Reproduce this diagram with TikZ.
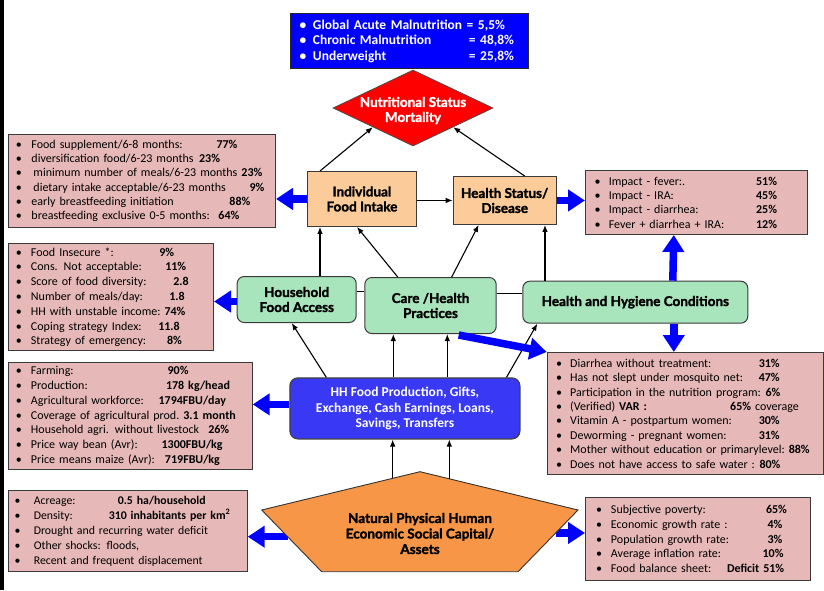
\documentclass[tikz,border=0pt]{standalone}
\usepackage{fontspec}
\setmainfont{Carlito}
\newfontfamily\headfont[FakeBold=1.6]{Lato}
\usetikzlibrary{arrows.meta,shapes.geometric}

\definecolor{pinkfill}{HTML}{E6B9B8}
\definecolor{peachfill}{HTML}{FBCB9A}
\definecolor{greenfill}{HTML}{A8E4BC}
\definecolor{hhblue}{HTML}{3838F5}
\definecolor{topblue}{HTML}{0000FF}
\definecolor{orangefill}{HTML}{F79646}
\definecolor{edgegray}{HTML}{3A3A3A}

% bullet line: bullet, label padded to a given width, value
\newlength\bulw
\newcommand\itm[3]{\makebox[\bulw][l]{\textbullet}\setbox0=\hbox{#2\ }\ifdim\wd0<#1pt\hbox to #1pt{\unhbox0\hfil}\else\box0\fi#3}

\begin{document}
\begin{tikzpicture}[x=1pt,y=-1pt,
  bul/.code={\setlength\bulw{#1}},
  databox/.style={draw=edgegray, line width=1pt, fill=pinkfill, anchor=north west,
    align=left, inner ysep=0pt},
  titlebox/.style={anchor=north west, inner sep=0pt, align=center,
    font=\headfont\bfseries\fontsize{13.5}{15}\selectfont},
  peachbox/.style={titlebox, draw=edgegray, line width=0.9pt, fill=peachfill},
  greenbox/.style={titlebox, draw=edgegray, line width=1pt, fill=greenfill, rounded corners=7pt},
  thinarrow/.style={-{Latex[length=7pt,width=5.5pt]}, line width=1.1pt, black},
  thinline/.style={line width=1.1pt, black},
  bluearrow/.style={-{Triangle[length=17pt,width=21pt]}, line width=7.5pt, topblue},
]
\useasboundingbox (0,0) rectangle (824,590);

% left frame
\draw[line width=3.5pt] (1.75,0) -- (1.75,590);

% ---------- top indicators ----------
\node[databox, draw=black!85, line width=1.3pt, fill=topblue, text=white, bul=13.3pt,
  inner xsep=9pt, text width=220pt, minimum height=55pt,
  font=\bfseries\fontsize{13.5}{15.4}\selectfont] (malnut) at (290,13) {
\itm{153.3}{Global Acute Malnutrition}{= 5,5\%}\\
\itm{156}{Chronic Malnutrition}{= 48,8\%}\\
\itm{156}{Underweight}{= 25,8\%}};

% ---------- outcome ----------
\node[diamond, fill=red, draw=black!70, line width=0.8pt, minimum width=160pt,
  minimum height=76pt, inner sep=0pt] (dia) at (413,108) {};
\node[align=center, text=white, inner sep=0pt,
  font=\headfont\bfseries\fontsize{13.5}{15}\selectfont] (diatext) at (413,110.5)
  {Nutritional Status\\Mortality};

% ---------- immediate causes ----------
\node[peachbox, minimum width=109pt, minimum height=55pt] (ifi) at (307,171)
  {Individual\\Food Intake};
\node[peachbox, minimum width=103pt, minimum height=48pt] (hsd) at (452.7,176)
  {Health Status/\\Disease};

% ---------- underlying causes ----------
\node[greenbox, minimum width=119pt, minimum height=46pt] (hfa) at (236.7,276)
  {Household\\Food Access};
\node[greenbox, minimum width=131.4pt, minimum height=56pt] (care) at (364.3,277)
  {Care /Health\\Practices};
\node[greenbox, minimum width=225pt, minimum height=42pt] (hhc) at (522.3,280.7)
  {Health and Hygiene Conditions};

% ---------- household resources ----------
\node[anchor=north west, draw=black!75, line width=1.2pt, fill=hhblue, rounded corners=8pt,
  minimum width=230pt, minimum height=61pt, inner sep=0pt, align=center, text=white,
  font=\bfseries\fontsize{13.5}{15.3}\selectfont] (hh) at (289.3,377.3)
  {HH Food Production, Gifts,\\Exchange, Cash Earnings, Loans,\\Savings, Transfers};

% ---------- data boxes ----------
\node[databox, bul=15.5pt, inner xsep=8pt, text width=251.5pt, minimum height=93pt,
  font=\fontsize{12}{14.3}\selectfont] (intakedata) at (7.5,134) {
\itm{185}{Food supplement/6-8 months:}{\textbf{77\%}}\\
\itm{167.6}{diversification food/6-23 months}{\textbf{23\%}}\\
\itm{206.6}{\hspace{2pt}minimum number of meals/6-23 months}{\textbf{23\%}}\\
\itm{218}{\hspace{2pt}dietary intake acceptable/6-23 months}{\textbf{9\%}}\\
\itm{198}{early breastfeeding initiation}{\textbf{88\%}}\\
\itm{187}{breastfeeding exclusive 0-5 months:}{\textbf{64\%}}};

\node[databox, bul=15pt, inner xsep=8pt, text width=189.5pt, minimum height=107pt,
  font=\fontsize{12}{14.8}\selectfont] (accessdata) at (7.5,243.3) {
\itm{128.3}{Food Insecure *:}{\textbf{9\%}}\\
\itm{134.3}{Cons. Not acceptable:}{\textbf{11\%}}\\
\itm{142.3}{Score of food diversity:}{\textbf{2.8}}\\
\itm{138.3}{Number of meals/day:}{\textbf{1.8}}\\
\itm{130.6}{HH with unstable income:}{\textbf{74\%}}\\
\itm{127.3}{Coping strategy Index:}{\textbf{11.8}}\\
\itm{136}{Strategy of emergency:}{\textbf{8\%}}};

\node[databox, bul=15pt, inner xsep=8pt, text width=228.2pt, minimum height=107pt,
  font=\fontsize{12}{14.8}\selectfont] (proddata) at (7.5,362) {
\itm{136.6}{Farming:}{\textbf{90\%}}\\
\itm{135}{Production:}{\textbf{178 kg/head}}\\
\itm{127.6}{Agricultural workforce:}{\textbf{1794FBU/day}}\\
\itm{135.6}{Coverage of agricultural prod.}{\textbf{3.1 month}}\\
\itm{177.3}{Household agri. without livestock}{\textbf{26\%}}\\
\itm{130.6}{Price way bean (Avr):}{\textbf{1300FBU/kg}}\\
\itm{134}{Price means maize (Avr):}{\textbf{719FBU/kg}}};

\node[databox, bul=19.3pt, inner xsep=6.5pt, text width=226.2pt, minimum height=81pt,
  font=\fontsize{11.8}{15}\selectfont] (assetsleft) at (7.5,490) {
\itm{84}{Acreage:}{\textbf{0.5 ha/household}}\\
\itm{75}{Density:}{\textbf{310 inhabitants per km\textsuperscript{2}}}\\
\itm{0}{Drought and recurring water deficit}{}\\
\itm{0}{Other shocks: floods,}{}\\
\itm{0}{Recent and frequent displacement}{}};

\node[databox, bul=14.3pt, inner xsep=9pt, text width=203.7pt, minimum height=64pt,
  font=\fontsize{12}{14.3}\selectfont] (feverdata) at (585,170) {
\itm{147.3}{Impact - fever:.}{\textbf{51\%}}\\
\itm{147.3}{Impact - IRA:}{\textbf{45\%}}\\
\itm{147.3}{Impact - diarrhea:}{\textbf{25\%}}\\
\itm{147.3}{Fever + diarrhea + IRA:}{\textbf{12\%}}};

\node[databox, bul=14pt, inner xsep=9pt, text width=258.3pt, minimum height=122pt,
  font=\fontsize{12}{14.4}\selectfont] (healthdata) at (546.7,352) {
\itm{188.6}{Diarrhea without treatment:}{\textbf{31\%}}\\
\itm{188.6}{Has not slept under mosquito net:}{\textbf{47\%}}\\
\itm{195.3}{Participation in the nutrition program:}{\textbf{6\%}}\\
\itm{160}{(Verified) \textbf{VAR :}}{\textbf{65\%} coverage}\\
\itm{188.6}{Vitamin A - postpartum women:}{\textbf{30\%}}\\
\itm{188.6}{Deworming - pregnant women:}{\textbf{31\%}}\\
\itm{218.6}{Mother without education or primarylevel:}{\textbf{88\%}}\\
\itm{189.3}{Does not have access to safe water :}{\textbf{80\%}}};

\node[databox, bul=15pt, inner xsep=10.5pt, text width=204pt, minimum height=83pt,
  font=\fontsize{12}{14.8}\selectfont] (econdata) at (585,497) {
\itm{155}{Subjective poverty:}{\textbf{65\%}}\\
\itm{156.6}{Economic growth rate :}{\textbf{4\%}}\\
\itm{156.6}{Population growth rate:}{\textbf{3\%}}\\
\itm{151.6}{Average inflation rate:}{\textbf{10\%}}\\
\itm{116}{Food balance sheet:}{\textbf{Deficit 51\%}}};

% ---------- links between causes ----------
\draw[thinarrow] (ifi.east |- hsd.west) -- (hsd.west);
\draw[thinarrow] ([xshift=13pt]ifi.north west) -- (dia.south west);
\draw[thinarrow] ([xshift=20pt]hsd.north) -- (dia.south east);
\draw[thinarrow] ([xshift=13pt]ifi.south west |- hfa.north) -- ([xshift=13pt]ifi.south west);
\draw[thinarrow] ([xshift=33.4pt]care.north west) -- ([xshift=-5pt]ifi.south);
\draw[thinarrow] ([xshift=-45pt]care.north east) -- ([xshift=-26pt]hsd.south);
\draw[thinarrow] ([xshift=22.7pt]hhc.north west) -- ([xshift=22.7pt]hhc.north west |- hsd.south);
\draw[thinline] ([yshift=8pt]hfa.east) -- ([yshift=8pt]hfa.east -| care.west);
\draw[thinline] ([yshift=8.6pt]hhc.west) -- ([yshift=8.6pt]hhc.west -| care.east);
\draw[thinarrow] ([xshift=37pt]hh.north west) -- ([xshift=-5pt]hfa.south);
\draw[thinarrow] ([xshift=-11.6pt]hh.north) -- ([xshift=-11.6pt]hh.north |- care.south);
\draw[thinarrow] ([xshift=42.4pt]hh.north) -- ([xshift=42.4pt]hh.north |- care.south);
\draw[thinarrow] ([xshift=-14pt]hh.north east) -- ([xshift=15pt]hhc.south west);

% ---------- links to the data boxes ----------
\draw[bluearrow] (ifi.west) -- (ifi.west -| intakedata.east);
\draw[bluearrow] (hsd.east) -- (hsd.east -| feverdata.west);
\draw[bluearrow] ([xshift=37.5pt]hhc.north) -- ([xshift=38.5pt]hhc.north |- feverdata.south);
\draw[bluearrow] ([yshift=-2pt]hfa.west) -- ([yshift=-2pt]hfa.west -| accessdata.east);
\draw[bluearrow] ([xshift=38.5pt]hhc.south) -- ([xshift=38.5pt]hhc.south |- healthdata.north);
\draw[bluearrow] ([xshift=-38pt,yshift=-1pt]care.south east) -- (healthdata.north west);
\draw[bluearrow] ([yshift=4pt]hh.west) -- ([yshift=4pt]hh.west -| proddata.east);

% ---------- capital / assets ----------
\coordinate (pl) at (288,536.7);
\coordinate (pr) at (556,533);
\draw[bluearrow] (pl) -- (pl -| assetsleft.east);
\draw[bluearrow] (pr) -- (pr -| econdata.west);

\coordinate (ptop) at (420,471.7);
\coordinate (pright) at (578,510);
\coordinate (pbr) at (518,571.7);
\coordinate (pbl) at (321.7,571.7);
\coordinate (pleft) at (261.7,510);
\draw[fill=orangefill, draw=black!80, line width=0.9pt]
  (ptop) -- (pright) -- (pbr) -- (pbl) -- (pleft) -- cycle;
\node[align=center, inner sep=0pt,
  font=\headfont\bfseries\fontsize{13.5}{15.5}\selectfont] (assets) at (420,533.5)
  {Natural Physical Human\\Economic Social Capital/\\Assets};

\coordinate (pa) at (392.7,478.3);
\coordinate (pb) at (449.3,478.8);
\draw[thinarrow] (pa) -- (pa |- hh.south);
\draw[thinarrow] (pb) -- (pb |- hh.south);
\end{tikzpicture}
\end{document}
